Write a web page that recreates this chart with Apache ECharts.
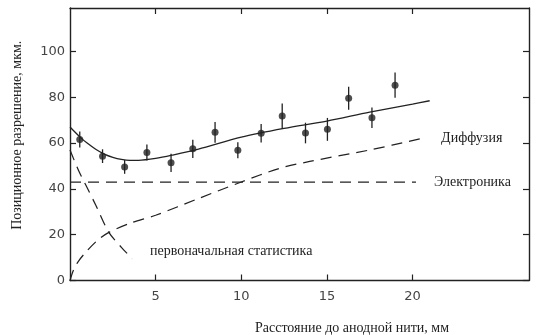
<!DOCTYPE html>
<html>
<head>
<meta charset="utf-8">
<script src="https://cdn.jsdelivr.net/npm/echarts@6/dist/echarts.min.js"></script>
<style>
html,body{margin:0;padding:0;background:#fff;}
#c{width:553px;height:335px;}
</style>
</head>
<body>
<div id="c"></div>
<script>
// Measured points
const pointX = [0.57, 1.9, 3.19, 4.49, 5.9, 7.17, 8.47, 9.8, 11.16, 12.39, 13.75, 15.03, 16.27, 17.63, 18.98];
const pointY = [61.6, 54.3, 49.6, 55.9, 51.4, 57.5, 64.7, 56.9, 64.3, 71.8, 64.4, 66.0, 79.6, 71.1, 85.3];
const pointErr = [3.5, 3, 3, 3.5, 4, 4, 4.5, 3.5, 4, 5.5, 4.5, 5, 5, 4.5, 5.5];
// Total (solid) curve
const totalX = [0, 0.6, 1, 1.5, 2, 2.5, 3, 3.5, 4, 5, 6, 7.5, 10, 12.5, 15, 17.5, 20, 21];
const totalY = [67, 62.5, 60, 57.3, 55.2, 53.8, 52.9, 52.5, 52.5, 53.3, 54.8, 57.4, 62.6, 66.4, 69.6, 73.5, 77, 78.5];
// Diffusion (dashed)
const diffX = [0, 0.2, 0.5, 1, 1.6, 2.27, 3.5, 5, 7.5, 10, 12.2, 14, 17.5, 20.5];
const diffY = [0, 4.5, 8.5, 13, 17.5, 21, 25, 28.5, 35.8, 43, 48.9, 52, 57, 62];
// Electronics (dashed)
const elecX = [0, 20.2];
const elecY = [43, 43];
// Primary statistics (dashed)
const statX = [0, 0.5, 0.9, 1.5, 2.27, 3, 3.63];
const statY = [57, 48, 42, 33, 21, 14.5, 9.5];

const xTicks = [5, 10, 15, 20];
const yTicks = [0, 20, 40, 60, 80, 100];

const zip = (a, b) => a.map((v, i) => [v, b[i]]);
const chart = echarts.init(document.getElementById('c'));
const serif = '"Liberation Serif", "Times New Roman", serif';
const tickFont = '"DejaVu Sans", sans-serif';
const line = {color: '#222', width: 1.4};
const dash = {type: [11, 7], color: '#222', width: 1.25};
function xAx(pos, labels) {
  return {
    type: 'value', min: 0, max: 26.8, position: pos,
    axisLine: {onZero: false, lineStyle: line},
    axisTick: {inside: true, length: 6, customValues: xTicks, lineStyle: {color: '#222', width: 1.2}},
    axisLabel: labels ? {margin: 10, fontFamily: tickFont, fontSize: 13, color: '#444', customValues: xTicks}
                      : {show: false},
    splitLine: {show: false}
  };
}
function yAx(pos, labels) {
  return {
    type: 'value', min: 0, max: 119, position: pos,
    axisLine: {onZero: false, lineStyle: line},
    axisTick: {inside: true, length: 6, customValues: yTicks, lineStyle: {color: '#222', width: 1.2}},
    axisLabel: labels ? {margin: 5, fontFamily: tickFont, fontSize: 13, color: '#444', customValues: yTicks}
                      : {show: false},
    splitLine: {show: false}
  };
}
const xb = xAx('bottom', true);
Object.assign(xb, {name: 'Расстояние до анодной нити, мм', nameLocation: 'middle', nameGap: 41,
  nameTextStyle: {fontFamily: serif, fontSize: 14, color: '#222', padding: [0, 0, 0, 105]}});
const yl = yAx('left', true);
Object.assign(yl, {name: 'Позиционное разрешение, мкм.', nameLocation: 'middle', nameGap: 46,
  nameTextStyle: {fontFamily: serif, fontSize: 14, color: '#222', padding: [0, 0, 0, 18]}});

chart.setOption({
  backgroundColor: '#fff',
  animation: false,
  grid: {left: 70, right: 24, top: 8, bottom: 54.5, containLabel: false, outerBoundsMode: 'none'},
  xAxis: [xb, xAx('top', false)],
  yAxis: [yl, yAx('right', false)],
  graphic: [{
    type: 'text', left: 150, top: 244,
    style: {text: 'первоначальная статистика', font: '14px ' + serif, fill: '#222'}
  }],
  series: [
    {type: 'line', data: zip(totalX, totalY), smooth: 0.3, symbol: 'none', lineStyle: {color: '#222', width: 1.3}},
    {type: 'line', data: zip(diffX, diffY), smooth: 0.3, symbol: 'none', lineStyle: dash,
      endLabel: {show: true, formatter: 'Диффузия', distance: 20, fontFamily: serif, fontSize: 14, color: '#222'}},
    {type: 'line', data: zip(elecX, elecY), symbol: 'none', lineStyle: dash,
      endLabel: {show: true, formatter: 'Электроника', distance: 18, fontFamily: serif, fontSize: 14, color: '#222'}},
    {type: 'line', data: zip(statX, statY), smooth: 0.3, symbol: 'none', lineStyle: dash},
    {type: 'custom', data: pointX.map((x, i) => [x, pointY[i] - pointErr[i], pointY[i] + pointErr[i]]),
      renderItem: (params, api) => {
        const a = api.coord([api.value(0), api.value(1)]);
        const b = api.coord([api.value(0), api.value(2)]);
        return {type: 'line', shape: {x1: a[0], y1: a[1], x2: b[0], y2: b[1]},
          style: {stroke: '#222', lineWidth: 1.3}};
      }, z: 3},
    {type: 'scatter', data: zip(pointX, pointY), symbol: 'circle', symbolSize: 7,
      itemStyle: {color: '#222'}, z: 4}
  ]
});
</script>
</body>
</html>
